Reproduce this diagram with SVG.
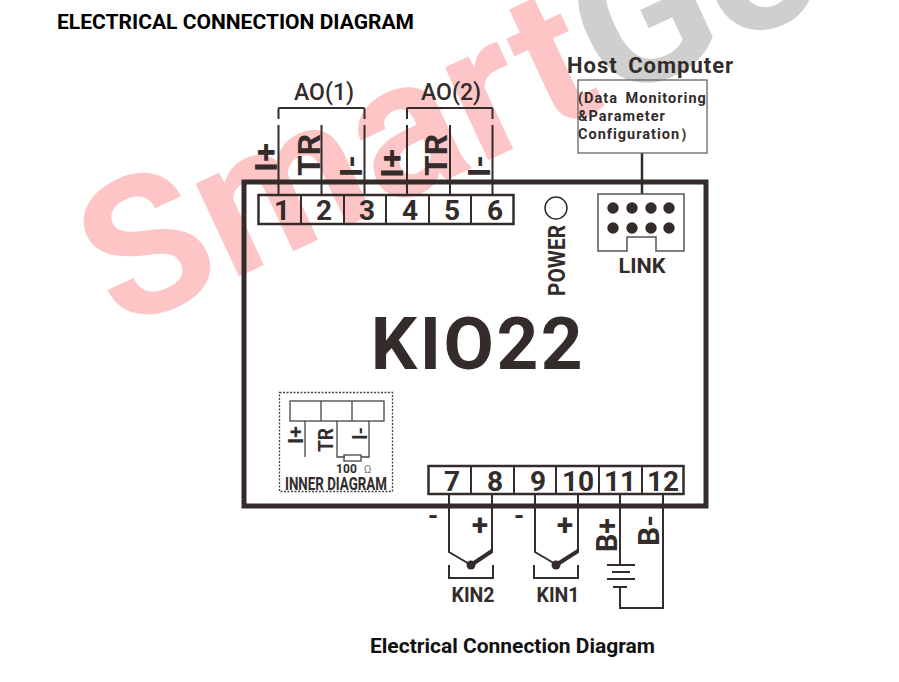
<svg xmlns="http://www.w3.org/2000/svg" width="899" height="682" viewBox="0 0 899 682">
<style>
text{font-family:"Roboto","Liberation Sans",sans-serif;fill:#332c2b}
.l{stroke:#332c2b;stroke-width:2;fill:none}
.t{stroke:#332c2b;stroke-width:2.500;fill:none}
.n{font-size:28px;font-weight:700;text-anchor:middle}
.s{font-size:32px;font-weight:700}
.m{font-size:14.500px;font-weight:700;letter-spacing:1px;word-spacing:3px}
.a{font-size:23px;font-weight:500;text-anchor:middle}
.k{font-size:21px;font-weight:700;text-anchor:middle}
.w{font-family:"Roboto","Liberation Sans",sans-serif;font-size:194px;font-weight:700;letter-spacing:1.500px}
.h{stroke:#444;stroke-width:1.300;fill:none}
</style>
<g id="watermark">
<text class="w" transform="translate(120,332) rotate(-25)"><tspan style="fill:#fdc5c5">Smart</tspan><tspan style="fill:#cfcfcd">Ge</tspan></text>
</g>
<text x="57" y="29" style="font-size:21px;font-weight:700;fill:#000" textLength="357" lengthAdjust="spacingAndGlyphs">ELECTRICAL CONNECTION DIAGRAM</text>
<text x="370" y="653" style="font-size:21px;font-weight:700;fill:#111" textLength="285" lengthAdjust="spacingAndGlyphs">Electrical Connection Diagram</text>
<g id="connectors">
<path class="l" d="M278.500 119V109Q278.500 108 279.500 108H363Q364.500 108 364.500 109V119M407 119V109Q407 108 408 108H491Q492.500 108 492.500 109V119"/>
<path class="l" d="M278.500 125V194M321.500 125V194M364.500 125V194M407 125V194M450 125V194M492.500 125V194"/>
<path class="l" d="M642 153V194" style="stroke-width:2.500"/>
<path class="l" d="M449 494V552L471 565M492 494V552M535 494V552L557 565M578 494V552M620 494V565M663 494V608H620V587"/>
<path d="M471 565L492 551M556 565L578 551" stroke="#332c2b" stroke-width="4" fill="none"/>
<circle cx="471" cy="565" r="4.500" fill="#332c2b"/><circle cx="556" cy="565" r="4.500" fill="#332c2b"/>
<path class="l" d="M449 565V578H493V565M534 565V578H578V565"/>
<path class="l" d="M607 565H635M612 572H630M607 579H635M613 587H627"/>
</g>
<g id="device"><rect x="244" y="182" width="462" height="324" fill="none" stroke="#332c2b" stroke-width="5"/>
<text x="478" y="369" style="font-size:73px;font-weight:700;text-anchor:middle;letter-spacing:2.500px">KIO22</text></g>
<g id="terminals-top">
<rect class="t" x="258.500" y="195" width="255" height="29"/>
<path class="l" d="M301 195V224M344 195V224M386 195V224M429 195V224M471 195V224"/>
<text class="n" x="282" y="220">1</text><text class="n" x="324" y="220">2</text><text class="n" x="367" y="220">3</text><text class="n" x="410" y="220">4</text><text class="n" x="452" y="220">5</text><text class="n" x="495" y="220">6</text>
</g>
<g id="ao-labels">
<text class="a" x="324" y="100">AO(1)</text>
<text class="a" x="451" y="100">AO(2)</text>
<text class="s" transform="translate(277,172) rotate(-90)" textLength="29" lengthAdjust="spacingAndGlyphs">I+</text>
<text class="s" transform="translate(320,176) rotate(-90)" textLength="42" lengthAdjust="spacingAndGlyphs">TR</text>
<text class="s" transform="translate(362,177) rotate(-90)" textLength="22" lengthAdjust="spacingAndGlyphs">I-</text>
<text class="s" transform="translate(403,178) rotate(-90)" textLength="29" lengthAdjust="spacingAndGlyphs">I+</text>
<text class="s" transform="translate(447,176) rotate(-90)" textLength="42" lengthAdjust="spacingAndGlyphs">TR</text>
<text class="s" transform="translate(490,177) rotate(-90)" textLength="22" lengthAdjust="spacingAndGlyphs">I-</text>
</g>
<g id="power"><circle cx="556" cy="208" r="11" fill="none" stroke="#332c2b" stroke-width="1.500"/>
<text transform="translate(565,296) rotate(-90)" style="font-size:23px;font-weight:700" textLength="71" lengthAdjust="spacingAndGlyphs">POWER</text></g>
<g id="link">
<path d="M598 194H684V251H656V237H627V251H598Z" fill="#fff" stroke="#555" stroke-width="1.500"/>
<g fill="#332c2b"><circle cx="613" cy="208" r="5.700"/><circle cx="632" cy="208" r="5.700"/><circle cx="651" cy="208" r="5.700"/><circle cx="669" cy="208" r="5.700"/><circle cx="613" cy="228" r="5.700"/><circle cx="632" cy="228" r="5.700"/><circle cx="651" cy="228" r="5.700"/><circle cx="669" cy="228" r="5.700"/></g>
<text class="k" x="642" y="273" textLength="47" lengthAdjust="spacingAndGlyphs">LINK</text>
</g>
<g id="host">
<text x="567" y="73" style="font-size:22px;font-weight:700;letter-spacing:1px;word-spacing:4px">Host Computer</text>
<rect x="578" y="80" width="129" height="73" fill="none" stroke="#666" stroke-width="1.300"/>
<text class="m" x="578" y="103">(Data Monitoring</text><text class="m" x="578" y="121">&amp;Parameter</text><text class="m" x="578" y="139">Configuration）</text>
</g>
<g id="inner">
<rect x="279.500" y="392.500" width="113" height="99" fill="none" stroke="#444" stroke-width="1.300" stroke-dasharray="2 1.500"/>
<rect class="h" x="290" y="401" width="94" height="20"/>
<path class="h" d="M321 401V421M352 401V421M305 421V457M337 421V457H345M361 457H369V421"/>
<rect class="h" x="344" y="455" width="17" height="6"/>
<text style="font-size:20px;font-weight:700" transform="translate(303,444) rotate(-90)" textLength="18" lengthAdjust="spacingAndGlyphs">I+</text>
<text style="font-size:21px;font-weight:700" transform="translate(333,452) rotate(-90)" textLength="24" lengthAdjust="spacingAndGlyphs">TR</text>
<text style="font-size:20px;font-weight:700" transform="translate(367,440) rotate(-90)" textLength="13" lengthAdjust="spacingAndGlyphs">I-</text>
<text x="336" y="473" style="font-size:12px;font-weight:700" textLength="21">100</text>
<text x="364" y="473" style="font-size:11px;fill:#777">Ω</text>
<text x="336" y="490" style="font-size:19px;font-weight:700;text-anchor:middle" textLength="102" lengthAdjust="spacingAndGlyphs">INNER DIAGRAM</text>
</g>
<g id="terminals-bottom">
<rect class="t" x="428.500" y="466" width="255" height="28"/>
<path class="l" d="M471 466V494M514 466V494M556 466V494M599 466V494M642 466V494"/>
<text class="n" x="452" y="491">7</text><text class="n" x="495" y="491">8</text><text class="n" x="538" y="491">9</text><text class="n" x="578" y="491">10</text><text class="n" x="620" y="491">11</text><text class="n" x="663" y="491">12</text>
</g>
<g id="bottom-labels">
<text x="433" y="525" style="font-size:26px;font-weight:700;text-anchor:middle">-</text><text x="480" y="535" style="font-size:30px;font-weight:700;text-anchor:middle">+</text>
<text x="519" y="525" style="font-size:26px;font-weight:700;text-anchor:middle">-</text><text x="565" y="535" style="font-size:30px;font-weight:700;text-anchor:middle">+</text>
<text transform="translate(617,552) rotate(-90)" style="font-size:30px;font-weight:700" textLength="34" lengthAdjust="spacingAndGlyphs">B+</text>
<text transform="translate(659,546) rotate(-90)" style="font-size:30px;font-weight:700" textLength="31" lengthAdjust="spacingAndGlyphs">B-</text>
<text class="k" x="473" y="602" textLength="43" lengthAdjust="spacingAndGlyphs">KIN2</text>
<text class="k" x="558" y="602" textLength="43" lengthAdjust="spacingAndGlyphs">KIN1</text>
</g>
</svg>
